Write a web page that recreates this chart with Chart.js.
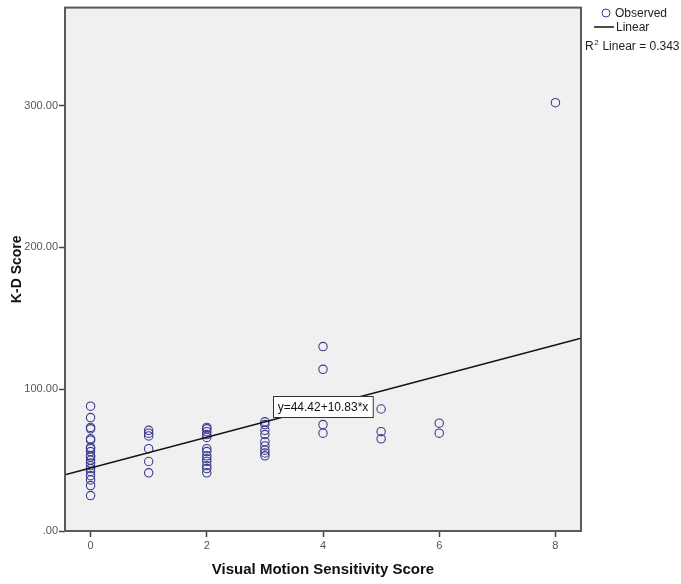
<!DOCTYPE html>
<html>
<head>
<meta charset="utf-8">
<title>K-D Score vs Visual Motion Sensitivity Score</title>
<script src="https://cdn.jsdelivr.net/npm/chart.js@4"></script>
<style>
  html, body { margin: 0; padding: 0; background: #fff; }
  #wrap { width: 681px; height: 584px; position: relative; }
</style>
</head>
<body>
<div id="wrap"><canvas id="grafico"></canvas></div>
<script>
// observed points, one list of K-D scores per visual motion score
const vmsScores = [0, 1, 2, 3, 4, 5, 6, 8];
const kdScores = [
  [88, 80, 73, 72, 65, 64, 59, 58, 56, 53, 52, 50, 48, 46, 44, 42, 39, 36, 32, 25],
  [71, 69, 67, 58, 49, 41],
  [73, 72, 70, 68, 66, 58, 56, 53, 51, 49, 46, 44, 41],
  [77, 75, 71, 68, 63, 60, 57, 55, 53],
  [130, 114, 75, 69],
  [86, 70, 65],
  [76, 69],
  [302]
];
const xTicks = [0, 2, 4, 6, 8];
const yTicks = [0, 100, 200, 300];
const xRange = [-0.44, 8.44];
const yRange = [0, 369];
// fit line shown in the chart
const fitIntercept = 44.42;
const fitSlope = 10.83;
const fitLabelAt = 4;
const rSquared = 0.343;

(function () {
  const FONT = "'Liberation Sans', Arial, sans-serif";
  const POINT_COLOR = "#3b3b8e";

  const observados = [];
  vmsScores.forEach((x, i) => {
    kdScores[i].forEach((y) => observados.push({ x, y }));
  });

  const linea = xRange.map((x) => ({ x, y: fitIntercept + fitSlope * x }));

  // plot background, frame, equation box and the legend on the right
  const marco = {
    id: "marco",
    beforeDraw(chart) {
      const { ctx, chartArea: a } = chart;
      ctx.save();
      ctx.fillStyle = "#f0f0f0";
      ctx.fillRect(a.left, a.top, a.right - a.left, a.bottom - a.top);
      ctx.restore();
    },
    afterDraw(chart) {
      const { ctx, chartArea: a, scales } = chart;
      ctx.save();

      ctx.strokeStyle = "#5a5a5a";
      ctx.lineWidth = 2;
      ctx.strokeRect(a.left, a.top, a.right - a.left, a.bottom - a.top);

      // equation label sitting on the line
      const ecuacion = "y=" + fitIntercept.toFixed(2) + "+" + fitSlope.toFixed(2) + "*x";
      const cx = scales.x.getPixelForValue(fitLabelAt);
      const cy = scales.y.getPixelForValue(fitIntercept + fitSlope * fitLabelAt);
      ctx.font = "12px " + FONT;
      const w = ctx.measureText(ecuacion).width + 9;
      const h = 21;
      ctx.fillStyle = "#fff";
      ctx.fillRect(Math.round(cx - w / 2) + 0.5, Math.round(cy - h / 2) + 0.5, w, h);
      ctx.strokeStyle = "#333";
      ctx.lineWidth = 1;
      ctx.strokeRect(Math.round(cx - w / 2) + 0.5, Math.round(cy - h / 2) + 0.5, w, h);
      ctx.fillStyle = "#111";
      ctx.textAlign = "center";
      ctx.textBaseline = "middle";
      ctx.fillText(ecuacion, cx, cy + 1);

      // legend
      ctx.textAlign = "left";
      ctx.font = "12px " + FONT;
      ctx.strokeStyle = POINT_COLOR;
      ctx.lineWidth = 1;
      ctx.beginPath();
      ctx.arc(606, 13, 4, 0, Math.PI * 2);
      ctx.stroke();
      ctx.fillStyle = "#222";
      ctx.fillText("Observed", 615, 14);

      ctx.strokeStyle = "#111";
      ctx.lineWidth = 1.5;
      ctx.beginPath();
      ctx.moveTo(594, 27);
      ctx.lineTo(614, 27);
      ctx.stroke();
      ctx.fillText("Linear", 616, 28);

      let x = 585;
      ctx.fillText("R", x, 47);
      x += ctx.measureText("R").width;
      ctx.font = "8px " + FONT;
      ctx.fillText("2", x + 0.5, 43);
      x += ctx.measureText("2").width + 1;
      ctx.font = "12px " + FONT;
      ctx.fillText(" Linear = " + rSquared.toFixed(3), x, 47);

      ctx.restore();
    }
  };

  const ctx = document.getElementById("grafico").getContext("2d");
  new Chart(ctx, {
    data: {
      datasets: [
        {
          type: "scatter",
          label: "Observed",
          data: observados,
          pointStyle: "circle",
          pointRadius: 4.2,
          pointBorderWidth: 1.1,
          pointBorderColor: POINT_COLOR,
          pointBackgroundColor: "rgba(0,0,0,0)",
          order: 2
        },
        {
          type: "line",
          label: "Linear",
          data: linea,
          borderColor: "#111",
          borderWidth: 1.5,
          pointRadius: 0,
          fill: false,
          order: 1
        }
      ]
    },
    options: {
      responsive: true,
      maintainAspectRatio: false,
      animation: false,
      events: [],
      layout: { padding: { top: 6, right: 100, left: 0, bottom: 0 } },
      plugins: {
        legend: { display: false },
        tooltip: { enabled: false }
      },
      scales: {
        x: {
          type: "linear",
          min: xRange[0],
          max: xRange[1],
          afterBuildTicks: (s) => { s.ticks = xTicks.map((v) => ({ value: v })); },
          afterFit: (s) => { s.height = 53; },
          border: { display: false },
          grid: { drawOnChartArea: false, tickLength: 6, tickColor: "#444", tickWidth: 1.5 },
          ticks: { color: "#555", font: { family: FONT, size: 11 }, padding: 2, maxRotation: 0 },
          title: {
            display: true,
            text: "Visual Motion Sensitivity Score",
            color: "#111",
            font: { family: FONT, size: 15, weight: "bold", lineHeight: 1.2 },
            padding: { top: 0, bottom: 5 }
          }
        },
        y: {
          type: "linear",
          min: yRange[0],
          max: yRange[1],
          afterBuildTicks: (s) => { s.ticks = yTicks.map((v) => ({ value: v })); },
          afterFit: (s) => { s.width = 65; },
          border: { display: false },
          grid: { drawOnChartArea: false, tickLength: 6, tickColor: "#444", tickWidth: 1.5 },
          ticks: {
            color: "#555",
            font: { family: FONT, size: 11 },
            padding: 1,
            callback: (v) => (v === 0 ? ".00" : v.toFixed(2))
          },
          title: {
            display: true,
            text: "K-D Score",
            color: "#111",
            font: { family: FONT, size: 14, weight: "bold", lineHeight: 1.2 },
            padding: { top: 8.6, bottom: 0 }
          }
        }
      }
    },
    plugins: [marco]
  });
})();
</script>
</body>
</html>
